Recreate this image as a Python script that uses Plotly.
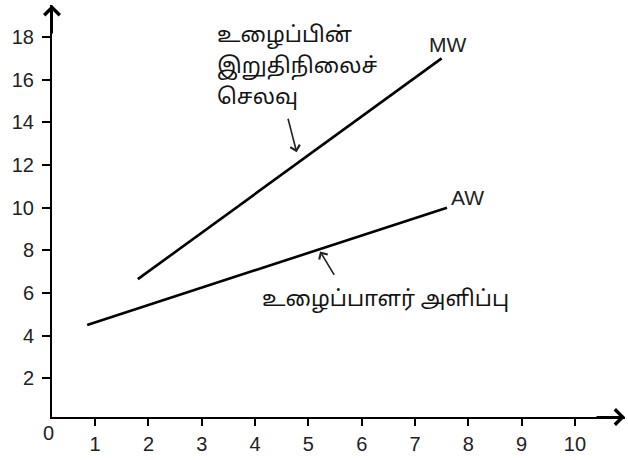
import plotly.graph_objects as go

# ---- data ----
mw_x = [1.8, 7.5]
mw_y = [6.65, 17.0]
aw_x = [0.85, 7.6]
aw_y = [4.5, 10.0]
x_ticks = [1, 2, 3, 4, 5, 6, 7, 8, 9, 10]
y_ticks = [2, 4, 6, 8, 10, 12, 14, 16, 18]
mw_label = "MW"
aw_label = "AW"
mw_text_lines = ["உழைப்பின்", "இறுதிநிலைச்", "செலவு"]
aw_text = "உழைப்பாளர் அளிப்பு"

FONT = "Liberation Sans, Arial, sans-serif"
TAMIL_FONT = "Latha, Noto Sans Tamil, Noto Sans, sans-serif"

fig = go.Figure()
fig.add_trace(go.Scatter(x=mw_x, y=mw_y, mode="lines",
                         line=dict(color="black", width=2.6), hoverinfo="skip"))
fig.add_trace(go.Scatter(x=aw_x, y=aw_y, mode="lines",
                         line=dict(color="black", width=2.6), hoverinfo="skip"))

ann = []
# line end labels
ann.append(dict(x=7.22, y=17.65, text=mw_label, showarrow=False,
                xanchor="left", yanchor="middle",
                font=dict(family=FONT, size=21, color="#222")))
ann.append(dict(x=aw_x[-1], y=10.47, text=aw_label, showarrow=False,
                xanchor="left", yanchor="middle", xshift=2,
                font=dict(family=FONT, size=21, color="#222")))
# Tamil labels (one annotation per line for the wider line spacing)
for i, line in enumerate(mw_text_lines):
    ann.append(dict(x=3.25, y=18.03, yshift=-31 * i, text=line, showarrow=False,
                    xanchor="left", yanchor="middle",
                    font=dict(family=TAMIL_FONT, size=22, color="#141414")))
ann.append(dict(x=6.45, y=5.65, text=aw_text, showarrow=False,
                xanchor="center", yanchor="middle",
                font=dict(family=TAMIL_FONT, size=22, color="#141414")))
# pointer arrows
ann.append(dict(x=4.78, y=12.6, ax=-9, ay=-35, text="", showarrow=True,
                arrowhead=4, arrowsize=1.2, arrowwidth=1.6, arrowcolor="#222"))
ann.append(dict(x=5.22, y=7.95, ax=15, ay=25, text="", showarrow=True,
                arrowhead=4, arrowsize=1.2, arrowwidth=1.6, arrowcolor="#222"))
# axis arrows
ann.append(dict(xref="paper", yref="paper", x=0, y=1, ax=0, ay=30, text="",
                showarrow=True, arrowhead=4, arrowsize=1.5, arrowwidth=2,
                arrowcolor="black"))
ann.append(dict(xref="paper", yref="paper", x=1, y=0, ax=-30, ay=0, text="",
                showarrow=True, arrowhead=4, arrowsize=1.5, arrowwidth=2,
                arrowcolor="black"))
# origin label
ann.append(dict(xref="paper", yref="paper", x=0, y=0, text="0", showarrow=False,
                xanchor="center", yanchor="top", xshift=-4, yshift=-3,
                font=dict(family=FONT, size=20, color="#222")))

fig.update_layout(
    width=628, height=460,
    margin=dict(l=52, r=3, t=5, b=43, autoexpand=False),
    paper_bgcolor="white", plot_bgcolor="white",
    showlegend=False,
    annotations=ann,
    xaxis=dict(range=[0.19, 10.94], tickmode="array", tickvals=x_ticks,
               ticktext=[str(v) for v in x_ticks], automargin=False,
               showline=True, linecolor="black", linewidth=2,
               ticks="outside", ticklen=7, tickwidth=1.5, tickcolor="black",
               showgrid=False, zeroline=False, ticklabelstandoff=1,
               tickfont=dict(family=FONT, size=20, color="#222"),
               fixedrange=True),
    yaxis=dict(range=[0.19, 19.5], tickmode="array", tickvals=y_ticks,
               ticktext=[str(v) for v in y_ticks], automargin=False,
               showline=True, linecolor="black", linewidth=2,
               ticks="outside", ticklen=8, tickwidth=1.5, tickcolor="black",
               showgrid=False, zeroline=False, ticklabelstandoff=4,
               tickfont=dict(family=FONT, size=20, color="#222"),
               fixedrange=True),
)

fig.write_html("out.html", config={"displayModeBar": False},
               post_script="document.body.style.margin='0px';document.body.style.overflow='hidden';")
